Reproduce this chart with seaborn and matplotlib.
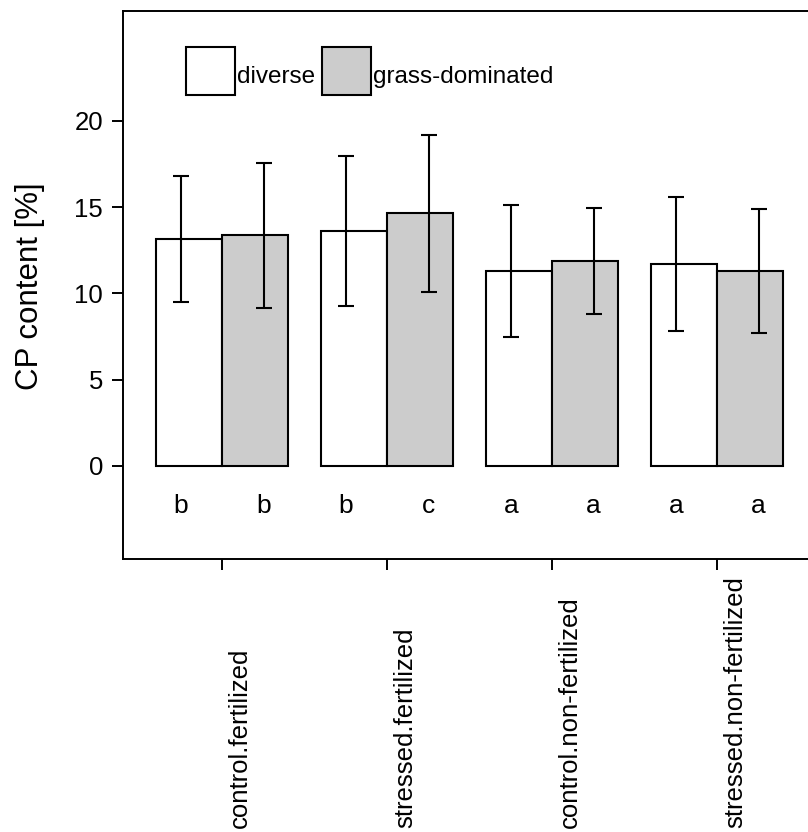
import matplotlib
matplotlib.use("Agg")
import matplotlib.pyplot as plt
import matplotlib.transforms as mtransforms
from matplotlib.patches import Patch, Rectangle
from matplotlib.legend_handler import HandlerPatch
import numpy as np
import pandas as pd
import seaborn as sns

# Crude protein content per treatment and community type
treatments = ["control.fertilized", "stressed.fertilized",
              "control.non-fertilized", "stressed.non-fertilized"]
communities = ["diverse", "grass-dominated"]
diverse_mean = [13.15, 13.62, 11.28, 11.72]
grass_mean = [13.37, 14.66, 11.88, 11.28]
diverse_sd = [3.64, 4.36, 3.83, 3.87]
grass_sd = [4.20, 4.55, 3.08, 3.60]
diverse_letters = ["b", "b", "a", "a"]
grass_letters = ["b", "c", "a", "a"]
y_ticks = [0, 5, 10, 15, 20]

df = pd.DataFrame({
    "treatment": treatments * 2,
    "community": [communities[0]] * 4 + [communities[1]] * 4,
    "cp": diverse_mean + grass_mean,
})

sns.set_style("ticks")
plt.rcParams["font.family"] = ["Liberation Sans", "DejaVu Sans"]
plt.rcParams.update({"text.color": "black", "axes.labelcolor": "black",
                     "xtick.color": "black", "ytick.color": "black"})


class TallBoxHandler(HandlerPatch):
    """Legend key drawn as a tall square box centred a little above the text."""

    def create_artists(self, legend, orig_handle, xdescent, ydescent,
                       width, height, fontsize, trans):
        box_h = 1.975 * fontsize
        y0 = -0.477 * fontsize
        p = Rectangle(xy=(-xdescent, y0), width=width, height=box_h)
        self.update_prop(p, orig_handle, legend)
        p.set_transform(trans)
        return [p]


W, H = 808, 832
fig = plt.figure(figsize=(W / 100, H / 100), dpi=100)
ax_left, ax_top, ax_bottom = 123.3, 10.7, 559.3
px_per_group = 165.0
xlim = (-0.6, 3.8)
ax_w = (xlim[1] - xlim[0]) * px_per_group
ax = fig.add_axes([ax_left / W, (H - ax_bottom) / H, ax_w / W,
                   (ax_bottom - ax_top) / H])

fills = ["white", "#cccccc"]
sns.barplot(data=df, x="treatment", y="cp", hue="community",
            order=treatments, hue_order=communities, palette=fills,
            edgecolor="black", linewidth=1.5, width=0.8, errorbar=None,
            legend=False, ax=ax)

xpos = np.arange(len(treatments))
err_offset = 0.25
for means, sds, letters, sign in [(diverse_mean, diverse_sd, diverse_letters, -1),
                                   (grass_mean, grass_sd, grass_letters, 1)]:
    xs = xpos + sign * err_offset
    ax.errorbar(xs, means, yerr=sds, fmt="none", ecolor="black",
                elinewidth=1.5, capsize=5.8, capthick=1.5, zorder=5)
    for x, lab in zip(xs, letters):
        ax.text(x, -2.72, lab, ha="center", va="baseline", fontsize=19,
                color="black")

ax.set_xlim(*xlim)
ax.set_ylim(-5.41, 26.39)
ax.set_yticks(y_ticks)
ax.set_yticklabels([str(t) for t in y_ticks])
ax.set_xticks(xpos)
ax.set_xticklabels([])
ax.set_xlabel("")
ax.set_ylabel("CP content [%]", fontsize=22.5, color="black")
ax.yaxis.set_label_coords((45 - ax_left) / ax_w, 0.498)
ax.tick_params(axis="both", direction="out", length=8, width=1.4,
               color="black", labelsize=18.5, pad=6.5, labelcolor="black")

for side in ["left", "bottom", "top", "right"]:
    ax.spines[side].set_visible(True)
    ax.spines[side].set_color("black")
    ax.spines[side].set_linewidth(1.4)

# Treatment names, rotated and anchored near the bottom of the figure
trans = mtransforms.blended_transform_factory(ax.transData, fig.transFigure)
trans = mtransforms.offset_copy(trans, fig=fig, x=24.5, y=0, units="dots")
for x, name in zip(xpos, treatments):
    ax.text(x, 4 / H, name, transform=trans, rotation=90,
            rotation_mode="anchor", ha="left", va="baseline", fontsize=18.5,
            color="black")

handles = [Patch(facecolor=c, edgecolor="black", linewidth=1.5) for c in fills]
leg = ax.legend(handles, communities, loc="upper left",
                bbox_to_anchor=(186 / W, 1 - 56.7 / H),
                bbox_transform=fig.transFigure,
                ncol=2, frameon=False, fontsize=17.5, handlelength=2.0,
                handleheight=2.0, handletextpad=0.08, columnspacing=0.3,
                borderpad=0, borderaxespad=0,
                handler_map={Patch: TallBoxHandler()})
for t in leg.get_texts():
    t.set_color("black")

fig.savefig("out.png", dpi=100)
